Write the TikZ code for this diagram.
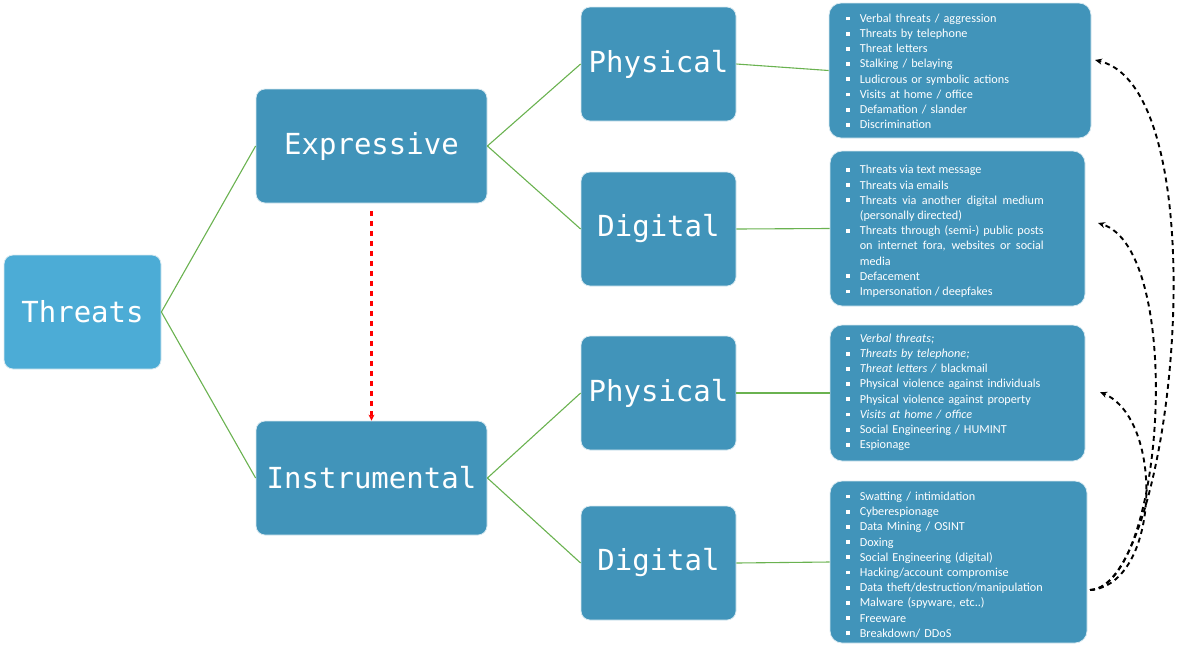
\documentclass[tikz,border=0pt]{standalone}
\usepackage{fontspec}
\setmainfont{Carlito}
\newfontfamily\monofont{DejaVu Sans Mono}
\usetikzlibrary{arrows.meta}
\definecolor{mainblue}{RGB}{65,148,186}
\definecolor{lightblue}{RGB}{76,172,214}
\definecolor{linkgreen}{RGB}{106,178,80}
\newcommand\itm[1]{\par\noindent\hangindent=14pt\hangafter=1\makebox[14pt][l]{\raisebox{2pt}{\rule{3.8pt}{3.8pt}}}#1}
\tikzset{
  bigbox/.style={draw=white!80!mainblue, line width=0.8pt, fill=mainblue, rounded corners=9pt, text=white,
    font=\monofont\fontsize{29}{32}\selectfont, inner sep=0pt},
  listbox/.style={draw=white!80!mainblue, line width=0.8pt, fill=mainblue, rounded corners=12pt, inner sep=0pt},
  listtext/.style={text=white, font=\fontsize{12.2}{15.2}\selectfont, inner sep=0pt, anchor=west, align=left},
  link/.style={draw=linkgreen, line width=1.1pt},
  blackarrow/.style={draw=black, line width=1.9pt, dash pattern=on 5pt off 4pt, -{Stealth[length=7pt,width=6pt]}},
  redarrow/.style={draw=red, line width=2.2pt, dash pattern=on 5pt off 5pt, -{Stealth[length=6pt,width=6pt]}}
}
\begin{document}
\begin{tikzpicture}[x=1pt,y=-1pt]
\useasboundingbox (0,0) rectangle (1177,646);
% main boxes
\node[bigbox, fill=lightblue, minimum width=157pt, minimum height=114pt] (T) at (82.5,312) {Threats};
\node[bigbox, minimum width=231pt, minimum height=114pt] (E) at (371.5,146) {Expressive};
\node[bigbox, minimum width=231pt, minimum height=114pt] (I) at (371.5,478) {Instrumental};
\node[bigbox, minimum width=155pt, minimum height=114pt] (P1) at (658.5,64) {Physical};
\node[bigbox, minimum width=155pt, minimum height=114pt] (D1) at (658.5,229) {Digital};
\node[bigbox, minimum width=155pt, minimum height=114pt] (P2) at (658.5,393) {Physical};
\node[bigbox, minimum width=155pt, minimum height=114pt] (D2) at (658.5,563) {Digital};
% list boxes
\node[listbox, minimum width=262pt, minimum height=135pt] (L1) at (960,70.5) {};
\node[listbox, minimum width=255pt, minimum height=155pt] (L2) at (957.5,228.5) {};
\node[listbox, minimum width=255pt, minimum height=136pt] (L3) at (957.5,393) {};
\node[listbox, minimum width=257pt, minimum height=162pt] (L4) at (958.5,562) {};
\node[listtext, text width=230pt] (L1t) at ([xshift=17pt,yshift=2.5pt]L1.west) {%
\itm{Verbal threats / aggression}
\itm{Threats by telephone}
\itm{Threat letters}
\itm{Stalking / belaying}
\itm{Ludicrous or symbolic actions}
\itm{Visits at home / office}
\itm{Defamation / slander}
\itm{Discrimination}};
\node[listtext, text width=198pt, align=justify] (L2t) at ([xshift=16pt,yshift=0.5pt]L2.west) {%
\itm{Threats via text message}
\itm{Threats via emails}
\itm{Threats via another digital medium (personally directed)}
\itm{Threats through (semi-) public posts on internet fora, websites or social media}
\itm{Defacement}
\itm{Impersonation / deepfakes}};
\node[listtext, text width=225pt] (L3t) at ([xshift=16pt,yshift=4pt]L3.west) {%
\itm{\textit{Verbal threats;}}
\itm{\textit{Threats by telephone;}}
\itm{\textit{Threat letters /} blackmail}
\itm{Physical violence against individuals}
\itm{Physical violence against property}
\itm{\textit{Visits at home / office}}
\itm{Social Engineering / HUMINT}
\itm{Espionage}};
\node[listtext, text width=225pt] (L4t) at ([xshift=16pt,yshift=0.5pt]L4.west) {%
\itm{Swatting / intimidation}
\itm{Cyberespionage}
\itm{Data Mining / OSINT}
\itm{Doxing}
\itm{Social Engineering (digital)}
\itm{Hacking/account compromise}
\itm{Data theft/destruction/manipulation}
\itm{Malware (spyware, etc..)}
\itm{Freeware}
\itm{Breakdown/ DDoS}};
% green links
\draw[link] (T.east) -- (E.west);
\draw[link] (T.east) -- (I.west);
\draw[link] (E.east) -- (P1.west);
\draw[link] (E.east) -- (D1.west);
\draw[link] (I.east) -- (P2.west);
\draw[link] (I.east) -- (D2.west);
\draw[link] (P1.east) -- (L1.west);
\draw[link] (D1.east) -- (L2.west);
\draw[link] (P2.east) -- (L3.west);
\draw[link] (D2.east) -- (L4.west);
% red dashed arrow
\coordinate (rs) at ([yshift=-8pt]E.south);
\draw[redarrow] (rs) -- (I.north);
% black dashed arrows
\coordinate (s) at (1090,590);
\coordinate (e1) at (1095,60);
\coordinate (e2) at (1098,223);
\coordinate (e3) at (1100,392);
\draw[blackarrow] (s) .. controls (1174,588) and (1222,90) .. (e1);
\draw[blackarrow] (s) .. controls (1165,586) and (1185,250) .. (e2);
\draw[blackarrow] (s) .. controls (1160,585) and (1165,420) .. (e3);
\end{tikzpicture}
\end{document}
